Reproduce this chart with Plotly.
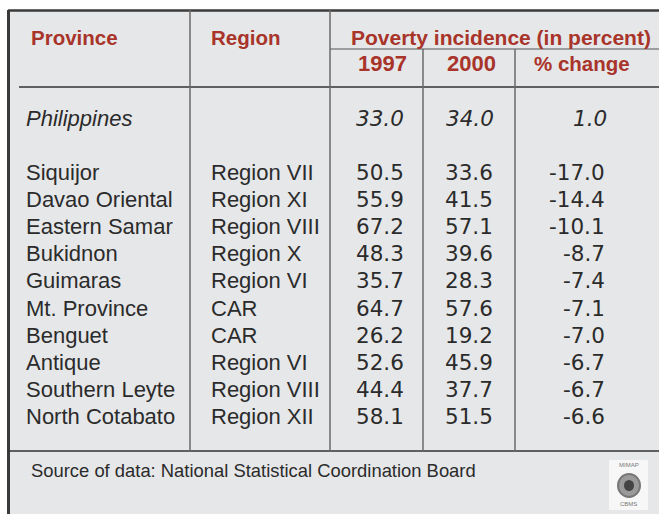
import plotly.graph_objects as go

# ---- data ----
provinces = ["Siquijor", "Davao Oriental", "Eastern Samar", "Bukidnon", "Guimaras",
             "Mt. Province", "Benguet", "Antique", "Southern Leyte", "North Cotabato"]
regions = ["Region VII", "Region XI", "Region VIII", "Region X", "Region VI",
           "CAR", "CAR", "Region VI", "Region VIII", "Region XII"]
pov_1997 = [50.5, 55.9, 67.2, 48.3, 35.7, 64.7, 26.2, 52.6, 44.4, 58.1]
pov_2000 = [33.6, 41.5, 57.1, 39.6, 28.3, 57.6, 19.2, 45.9, 37.7, 51.5]
pct_change = [-17.0, -14.4, -10.1, -8.7, -7.4, -7.1, -7.0, -6.7, -6.7, -6.6]
national_label = "Philippines"
national_values = [33.0, 34.0, 1.0]
header_main = ["Province", "Region", "Poverty incidence (in percent)"]
header_sub = ["1997", "2000", "% change"]
source_note = "Source of data: National Statistical Coordination Board"

# ---- layout constants (pixel-like canvas) ----
W, H = 659, 514
BG = "#e6e7e9"
RED = "#a8342a"
TXT = "#2b2b2b"
FONT = "Liberation Sans"
NUMFONT = "DejaVu Sans"

fig = go.Figure()
fig.add_trace(go.Scatter(x=[0, W], y=[0, H], mode="markers",
                         marker=dict(opacity=0), hoverinfo="skip", showlegend=False))

shapes = []
# background panel
shapes.append(dict(type="rect", x0=8, x1=W + 5, y0=10, y1=H + 5,
                   fillcolor=BG, line=dict(width=0), layer="below"))
# outer border (left + top)
shapes.append(dict(type="line", x0=8.5, x1=8.5, y0=10, y1=H + 5, line=dict(color="#3a3a3a", width=3)))
shapes.append(dict(type="line", x0=8, x1=W + 5, y0=10.5, y1=10.5, line=dict(color="#3a3a3a", width=2.5)))
# header separator lines
shapes.append(dict(type="line", x0=19, x1=W + 5, y0=87, y1=87, line=dict(color="#333333", width=1.5)))
shapes.append(dict(type="line", x0=330, x1=W + 5, y0=49, y1=49, line=dict(color="#555555", width=1.2)))
shapes.append(dict(type="line", x0=8, x1=W + 5, y0=451, y1=451, line=dict(color="#333333", width=1.5)))
# vertical dividers
for xv, y0 in [(190, 10), (330, 10), (423, 49), (515, 49)]:
    shapes.append(dict(type="line", x0=xv, x1=xv, y0=y0, y1=451, line=dict(color="#6a6a6a", width=1.5)))
# logo placeholder
shapes.append(dict(type="rect", x0=609, x1=648, y0=460, y1=510, fillcolor="#f7f7f7", line=dict(width=0)))
shapes.append(dict(type="circle", x0=618, x1=640, y0=474, y1=497, fillcolor="#9a9a9a",
                   line=dict(color="#777777", width=2)))
shapes.append(dict(type="circle", x0=624, x1=634, y0=480, y1=491, fillcolor="#444444", line=dict(width=0)))

ann = []
def txt(x, y, s, size=22, color=TXT, anchor="left", weight=400, italic=False, family=FONT):
    # compensate for the annotation box padding so text edges land on x
    dx = {"left": -2, "right": 2, "center": 0}[anchor]
    ann.append(dict(x=x + dx, y=y, xref="x", yref="y", text=s, showarrow=False,
                    xanchor=anchor, yanchor="middle",
                    font=dict(family=family, size=size, color=color, weight=weight,
                              style="italic" if italic else "normal")))

# headers
txt(31, 37, header_main[0], size=20.5, color=RED, weight=700)
txt(211, 37, header_main[1], size=20.5, color=RED, weight=700)
txt(501, 37, header_main[2], size=21, color=RED, weight=700, anchor="center")
for xc, s, sz in zip([382, 471, 582], header_sub, [22, 22, 20.5]):
    txt(xc, 63, s, size=sz, color=RED, weight=700, anchor="center")

# national row
txt(26, 118, national_label, italic=True)
txt(380, 118, f"{national_values[0]:.1f}", italic=True, anchor="center", family=NUMFONT, size=21.5)
txt(470, 118, f"{national_values[1]:.1f}", italic=True, anchor="center", family=NUMFONT, size=21.5)
txt(607, 118, f"{national_values[2]:.1f}", italic=True, anchor="right", family=NUMFONT, size=21.5)

# province rows
y_start, dy = 172.5, 27.1
for i, (p, r, a, b, c) in enumerate(zip(provinces, regions, pov_1997, pov_2000, pct_change)):
    y = y_start + i * dy
    txt(26, y, p)
    txt(211, y, r)
    txt(380, y, f"{a:.1f}", anchor="center", family=NUMFONT, size=21.5)
    txt(469, y, f"{b:.1f}", anchor="center", family=NUMFONT, size=21.5)
    txt(605, y, f"{c:.1f}", anchor="right", family=NUMFONT, size=21.5)

# source
txt(31, 470, source_note, size=18.4)
# logo text
txt(628.5, 465, "MIMAP", size=6, color="#777777", anchor="center")
txt(628.5, 504, "CBMS", size=6, color="#777777", anchor="center")

fig.update_layout(
    width=W, height=H, margin=dict(l=0, r=0, t=0, b=0),
    paper_bgcolor="white", plot_bgcolor="white",
    xaxis=dict(range=[0, W], visible=False, fixedrange=True),
    yaxis=dict(range=[H, 0], visible=False, fixedrange=True),
    shapes=shapes, annotations=ann, showlegend=False,
)
fig.write_html("out.html", config=dict(displayModeBar=False),
               post_script="document.body.style.margin='0';document.body.style.overflow='hidden';")
